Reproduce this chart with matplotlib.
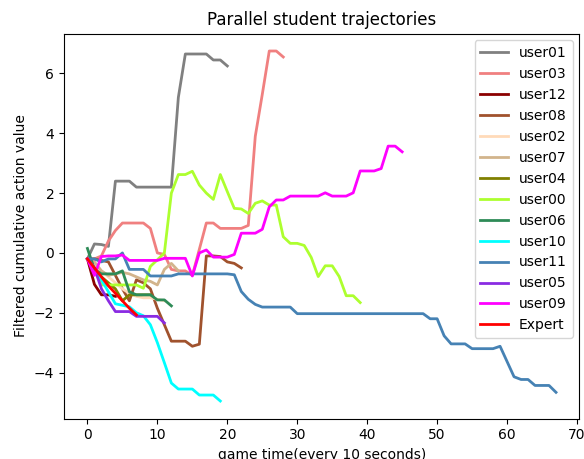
import matplotlib
matplotlib.use('Agg')
import matplotlib.pyplot as plt

# cumulative values per time step (t = 0, 1, 2, ...)
user01 = [-0.2, 0.3, 0.28, 0.22, 2.4, 2.4, 2.4, 2.2, 2.2, 2.2, 2.2, 2.2, 2.2, 5.2,
          6.65, 6.65, 6.65, 6.65, 6.45, 6.45, 6.25]
user03 = [-0.2, -0.2, -0.1, 0.4, 0.75, 1.0, 1.0, 1.0, 1.0, 0.82, 0.0, -0.05, -0.55,
          -0.6, -0.6, -0.75, 0.12, 1.0, 1.0, 0.82, 0.82, 0.82, 0.82, 0.92, 3.9, 5.3,
          6.75, 6.75, 6.55]
user12 = [-0.2, -1.05, -1.4, -1.4, -1.45]
user08 = [-0.2, -0.2, -0.25, -0.3, -0.75, -1.2, -1.6, -0.9, -1.0, -1.2, -1.85, -2.4,
          -2.95, -2.95, -2.95, -3.12, -3.05, -0.1, -0.1, -0.12, -0.3, -0.35, -0.5]
user02 = [-0.2, -0.35, -0.6, -0.8, -1.0, -1.2, -1.35, -1.45, -1.5, -1.5, -1.55, -1.6]
user07 = [-0.2, -0.3, -0.6, -0.75, -0.7, -0.65, -0.7, -0.8, -0.9, -0.95, -1.07,
          -0.55, -0.35, -0.6]
user04 = [-0.2, -0.5, -0.8, -1.0, -1.2, -1.6, -1.4, -1.4, -1.4, -1.4]
user00 = [-0.2, -0.55, -1.07, -1.07, -1.07, -1.07, -1.07, -1.07, -1.18, -0.45, -0.23,
          0.0, 2.0, 2.62, 2.62, 2.73, 2.27, 2.0, 1.79, 2.62, 2.05, 1.49, 1.47, 1.32,
          1.66, 1.74, 1.6, 1.6, 0.54, 0.32, 0.32, 0.25, -0.15, -0.79, -0.43, -0.43,
          -0.79, -1.43, -1.43, -1.66]
user06 = [0.15, -0.55, -0.7, -0.7, -0.7, -0.6, -1.3, -1.4, -1.4, -1.4, -1.57, -1.57,
          -1.77]
user10 = [-0.2, -0.5, -0.9, -1.3, -1.7, -1.75, -1.8, -2.0, -2.1, -2.4, -3.0, -3.67,
          -4.35, -4.55, -4.55, -4.55, -4.75, -4.75, -4.75, -4.95]
user11 = [-0.2, -0.2, -0.3, -0.2, -0.2, 0.0, -0.55, -0.55, -0.55, -0.77, -0.77, -0.77,
          -0.77, -0.7, -0.7, -0.7, -0.7, -0.7, -0.7, -0.7, -0.7, -0.73, -1.29, -1.55,
          -1.72, -1.81, -1.81, -1.81, -1.81, -1.81, -2.03, -2.03, -2.03, -2.03, -2.03,
          -2.03, -2.03, -2.03, -2.03, -2.03, -2.03, -2.03, -2.03, -2.03, -2.03, -2.03,
          -2.03, -2.03, -2.03, -2.2, -2.2, -2.77, -3.04, -3.04, -3.04, -3.2, -3.2, -3.2,
          -3.2, -3.12, -3.63, -4.14, -4.23, -4.23, -4.43, -4.43, -4.43, -4.66]
user05 = [-0.2, -0.5, -1.2, -1.6, -1.96, -1.96, -1.96, -2.12, -2.12, -2.12, -2.12,
          -2.34]
user09 = [-0.2, -0.75, -0.12, -0.1, -0.1, -0.07, -0.25, -0.25, -0.25, -0.25, -0.25,
          -0.18, -0.18, -0.18, -0.18, -0.77, 0.0, 0.1, -0.14, -0.14, -0.14, -0.05, 0.66,
          0.66, 0.66, 0.79, 1.54, 1.77, 1.77, 1.9, 1.9, 1.9, 1.9, 1.9, 2.01, 1.9, 1.9,
          1.9, 2.01, 2.74, 2.74, 2.74, 2.82, 3.57, 3.57, 3.38]
expert = [-0.2, -0.5, -0.8, -1.1, -1.35, -1.6, -1.85, -2.07]

names = ['user01', 'user03', 'user12', 'user08', 'user02', 'user07', 'user04',
         'user00', 'user06', 'user10', 'user11', 'user05', 'user09', 'Expert']
series = [user01, user03, user12, user08, user02, user07, user04,
          user00, user06, user10, user11, user05, user09, expert]
colors = ['gray', 'lightcoral', 'darkred', 'sienna', 'peachpuff', 'tan', 'olive',
          'greenyellow', 'seagreen', 'cyan', 'steelblue', 'blueviolet', 'magenta', 'red']

fig = plt.figure(figsize=(5.84, 4.59), dpi=100)
ax = fig.add_axes([0.1096, 0.0882, 0.8826, 0.8388])

for name, vals, c in zip(names, series, colors):
    ax.plot(range(len(vals)), vals, color=c, linewidth=2, label=name)

ax.set_title('Parallel student trajectories')
ax.set_xlabel('game time(every 10 seconds)')
ax.set_ylabel('Filtered cumulative action value')
ax.legend(loc='upper right')

fig.savefig('out.png', dpi=100)
